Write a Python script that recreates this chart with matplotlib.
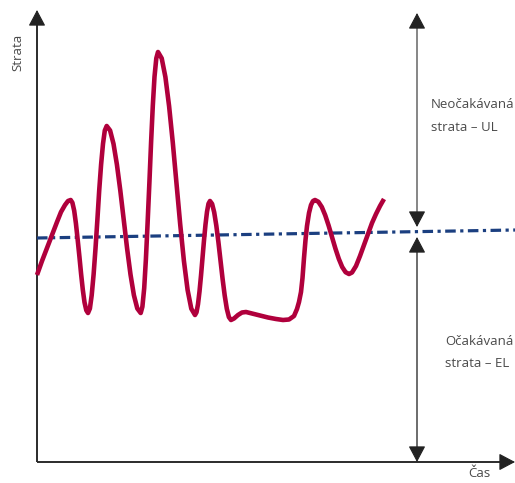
import matplotlib
matplotlib.use("Agg")
import matplotlib.pyplot as plt

# --- data (time on x, loss on y, arbitrary units) ---
loss_t = [
    0, 5, 10, 15, 20, 24, 28, 31, 33.7,
    35.4, 37.2, 38.9, 40.6, 42.4, 44.1, 45.8, 47.5, 49.3, 51,
    52.9, 54.7, 56.6, 58.5, 60.4, 62.2, 64.1, 66, 67.8, 69.7,
    73.1, 76.5, 79.9, 83.3, 86.7, 90.1, 93.5, 96.9, 100.3, 103.7,
    105.4, 107.2, 108.9, 110.6, 112.4, 114.1, 115.8, 117.5, 119.3, 121,
    124.7, 128.4, 132.1, 135.8, 139.5, 143.2, 146.9, 150.6, 154.3, 158,
    159.5, 161, 162.5, 164, 165.5, 167, 168.5, 170, 171.5, 173,
    175.1, 177.2, 179.3, 181.4, 183.5, 185.6, 187.7, 189.8, 191.9, 194,
    197, 201, 205, 209, 215, 223, 231, 239, 246, 252, 257, 260,
    262, 264, 265.5, 267, 268.5, 270, 272, 274, 276, 278,
    281.4, 284.8, 288.2, 291.6, 295, 298.4, 301.8, 305.2, 308.6, 312,
    315, 319, 323, 327, 331, 335, 339, 343, 347,
]
loss_v = [
    187, 201, 214, 227, 240, 250, 257, 261, 262,
    259.3, 251.3, 238.7, 223, 205.5, 188, 172.3, 159.7, 151.7, 149,
    153.5, 166.8, 187.5, 213.5, 242.5, 271.5, 297.5, 318.2, 331.5, 336,
    331.5, 318.2, 297.5, 271.5, 242.5, 213.5, 187.5, 166.8, 153.5, 149,
    155.3, 173.8, 202.8, 239, 279.5, 320, 356.2, 385.2, 403.7, 410,
    403.7, 385, 355.8, 319.3, 278.5, 237.7, 201.2, 172, 153.3, 147,
    149.7, 157.8, 170.5, 186.3, 204, 221.7, 237.5, 250.2, 258.3, 261,
    258.1, 249.7, 236.5, 220, 201.5, 183, 166.5, 153.3, 144.9, 142,
    143.5, 147, 149.5, 150, 148.5, 146.5, 144.5, 143, 142, 142.5, 146, 153,
    160, 170, 184, 204, 222, 236, 249, 257, 261, 262,
    260.2, 255, 246.8, 236.5, 225, 213.5, 203.2, 195, 189.8, 188,
    189.5, 196, 206, 217, 228, 239, 248, 256, 263,
]
el_t = [0, 478]
el_v = [224, 232]

x_end, y_end = 478, 452          # axis arrow tips
mark_t = 380                     # position of the UL / EL brackets
ul_top, el_level = 449, 230

fig = plt.figure(figsize=(5.15, 4.83), dpi=100)
ax = fig.add_axes([0, 0, 1, 1])
ax.set_xlim(-37, 478)
ax.set_ylim(-21, 462)
ax.axis("off")

txt = dict(family=["Open Sans", "DejaVu Sans"], color="#4a4a4a", fontsize=9.5)


def head(tip, frm, color="#222222"):
    ax.annotate(
        "", xy=tip, xytext=frm,
        arrowprops=dict(arrowstyle="-|>,head_length=10,head_width=5.3",
                        mutation_scale=1, shrinkA=0, shrinkB=0,
                        color=color, lw=0.8),
    )


# axes with arrows
ax.plot([0, 0], [0, y_end - 8], color="#2b2b2b", lw=1.4, solid_capstyle="butt")
ax.plot([0, x_end - 8], [0, 0], color="#2b2b2b", lw=1.4, solid_capstyle="butt")
head((0, y_end), (0, y_end - 14))
head((x_end, 0), (x_end - 14, 0))

# bracket arrows
ax.plot([mark_t, mark_t], [el_level + 10, ul_top - 8], color="#666666", lw=1.1)
head((mark_t, ul_top), (mark_t, ul_top - 14))
head((mark_t, el_level + 5), (mark_t, el_level + 19))
ax.plot([mark_t, mark_t], [6, el_level - 10], color="#444444", lw=1.1)
head((mark_t, el_level - 5), (mark_t, el_level - 19))
head((mark_t, 0), (mark_t, 14))

# series
ax.plot(el_t, el_v, color="#1b3f80", lw=2.3, ls=(0, (3.3, 1.4, 1.0, 1.4)))
ax.plot(loss_t, loss_v, color="#b0003c", lw=3.3, solid_joinstyle="round",
        solid_capstyle="butt")

# labels
ax.text(-19, 410, "Strata", rotation=90, ha="center", va="center", **txt)
ax.text(431, -5, "Čas", ha="left", va="top", **txt)
ax.text(394, 354, "Neočakávaná", ha="left", va="baseline", **txt)
ax.text(394, 331, "strata – UL", ha="left", va="baseline", **txt)
ax.text(408, 117, "Očakávaná", ha="left", va="baseline", **txt)
ax.text(408, 95, "strata – EL", ha="left", va="baseline", **txt)

fig.savefig("out.png", dpi=100)
